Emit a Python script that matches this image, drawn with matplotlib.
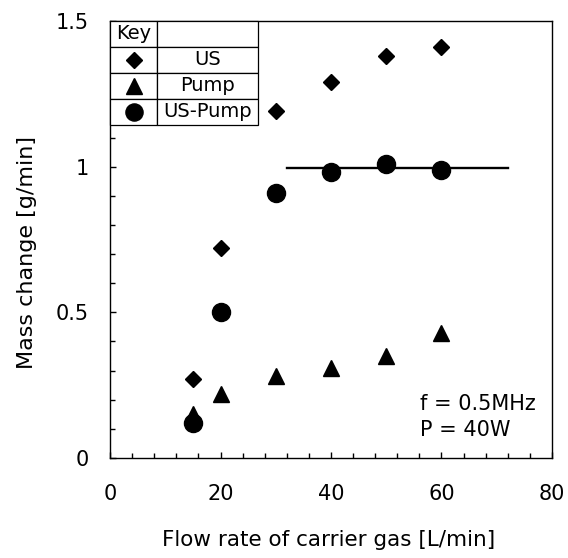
import matplotlib
matplotlib.use("Agg")
import matplotlib.pyplot as plt
from matplotlib.ticker import MultipleLocator

plt.rcParams['font.family'] = ['DejaVu Sans']

# ---- data ----
flow = [15, 20, 30, 40, 50, 60]
us = [0.27, 0.72, 1.19, 1.29, 1.38, 1.41]
pump = [0.15, 0.22, 0.28, 0.31, 0.35, 0.43]
us_pump = [0.12, 0.50, 0.91, 0.98, 1.01, 0.99]
plateau_x = [32, 72]
plateau_y = [0.995, 0.995]

key_names = ["US", "Pump", "US-Pump"]
key_markers = ["D", "^", "o"]
key_sizes = [8.5, 12, 13]

fig = plt.figure(figsize=(5.68, 5.58), dpi=100)
ax = fig.add_axes([0.1937, 0.1792, 0.7781, 0.7832])

ax.plot(plateau_x, plateau_y, color="black", lw=1.7, zorder=2)
ax.plot(flow, us, ls="none", marker="D", ms=8.5, color="black", zorder=3)
ax.plot(flow, pump, ls="none", marker="^", ms=12, color="black", zorder=3)
ax.plot(flow, us_pump, ls="none", marker="o", ms=13, color="black", zorder=4)

ax.set_xlim(0, 80)
ax.set_ylim(0, 1.5)
ax.set_xticks([0, 20, 40, 60, 80])
ax.set_yticks([0, 0.5, 1, 1.5])
ax.set_yticklabels(["0", "0.5", "1", "1.5"])
ax.xaxis.set_minor_locator(MultipleLocator(4))
ax.yaxis.set_minor_locator(MultipleLocator(0.1))
ax.tick_params(which="both", direction="in", top=False, right=False,
               labelsize=15, width=1)
ax.tick_params(axis="x", pad=19)
ax.tick_params(axis="y", pad=15)
ax.tick_params(which="major", length=4.5)
ax.tick_params(which="minor", length=3.5)
for sp in ax.spines.values():
    sp.set_linewidth(1.0)

ax.set_xlabel("Flow rate of carrier gas [L/min]", fontsize=15.5)
ax.xaxis.set_label_coords(0.495, -0.165)
ax.set_ylabel("Mass change [g/min]", fontsize=16)
ax.yaxis.set_label_coords(-0.165, 0.47)

ax.text(56.1, 0.165, "f = 0.5MHz", fontsize=15, va="baseline", ha="left")
ax.text(56.1, 0.0755, "P = 40W", fontsize=15, va="baseline", ha="left")

# ---- key table (axes fraction) ----
tx0, tw = 0.0, 0.3355
ty0, th = 0.762, 0.238
col1 = 0.107
rows = [["Key", ""]] + [["", n] for n in key_names]
tab = ax.table(cellText=rows, bbox=[tx0, ty0, tw, th],
               colWidths=[col1 / tw, 1 - col1 / tw], cellLoc="center")
tab.auto_set_font_size(False)
tab.set_fontsize(14)
for (r, c), cell in tab.get_celld().items():
    cell.set_linewidth(0.9)
    cell.set_edgecolor("black")
    cell.PAD = 0.03
    if r == 0 and c == 0:
        cell._loc = "left"
tab.set_zorder(5)

row_h = th / 4
for i, (m, s) in enumerate(zip(key_markers, key_sizes)):
    yc = ty0 + th - row_h * (i + 1.5)
    ax.plot([col1 / 2], [yc], marker=m, ms=s * 0.95, color="black",
            transform=ax.transAxes, clip_on=False, zorder=6)

fig.savefig("out.png", dpi=100, facecolor="white")
